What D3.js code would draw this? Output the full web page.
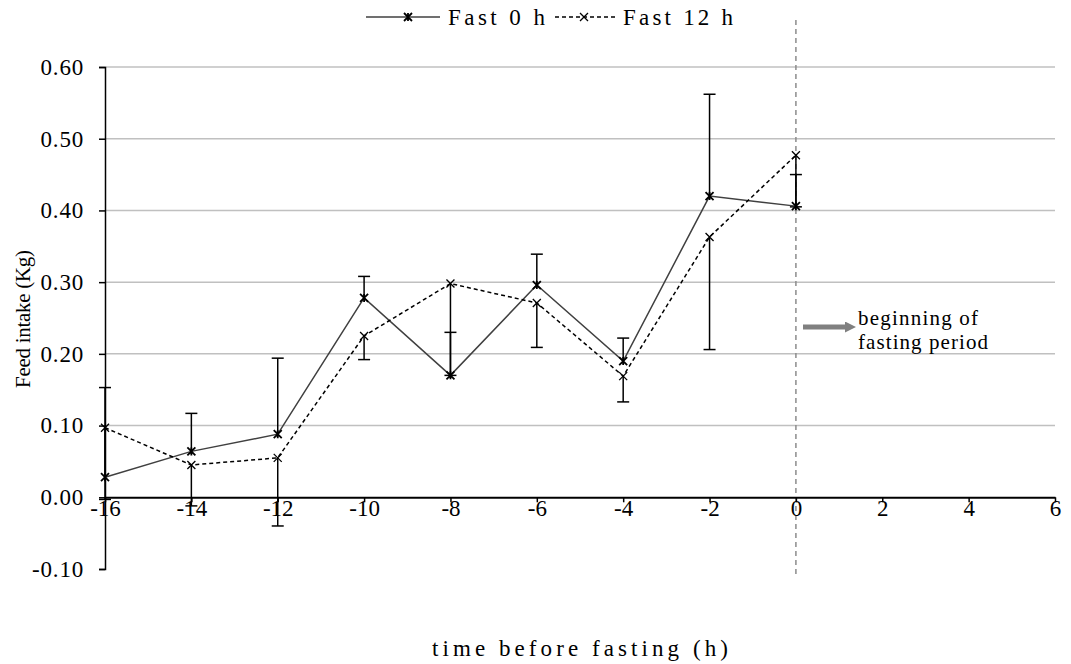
<!DOCTYPE html>
<html>
<head>
<meta charset="utf-8">
<script src="https://cdn.jsdelivr.net/npm/d3@7"></script>
<style>
  body { margin: 0; background: #fff; }
  svg text { font-family: "Times New Roman", "Liberation Serif", Tinos, "DejaVu Serif", serif; fill: #000; }
</style>
</head>
<body>
<script>
var hours = [-16, -14, -12, -10, -8, -6, -4, -2, 0];
var fast0 = [0.028, 0.064, 0.088, 0.278, 0.170, 0.296, 0.190, 0.420, 0.406];
var fast0Plus = [0.125, 0.053, 0.106, 0.030, 0.060, 0.043, 0.032, 0.142, 0.044];
var fast12 = [0.097, 0.045, 0.055, 0.225, 0.298, 0.271, 0.169, 0.363, 0.477];
var fast12Minus = [0.100, 0.057, 0.095, 0.033, 0.128, 0.062, 0.036, 0.157, 0.072];
var xTicks = [-16, -14, -12, -10, -8, -6, -4, -2, 0, 2, 4, 6];
var yTicks = [-0.1, 0, 0.1, 0.2, 0.3, 0.4, 0.5, 0.6];

var serif = '"Times New Roman", "Liberation Serif", Tinos, "DejaVu Serif", serif';

var svg = d3.select('body').append('svg')
    .attr('width', 1071)
    .attr('height', 664);

var x = d3.scaleLinear().domain([-16, 6]).range([105, 1055]);
var y = d3.scaleLinear().domain([-0.1, 0.6]).range([569, 67]);

// gridlines
svg.append('g')
    .selectAll('line')
    .data(yTicks.filter(function (d) { return d > 0; }))
    .enter().append('line')
    .attr('x1', x(-16)).attr('x2', x(6))
    .attr('y1', function (d) { return y(d); })
    .attr('y2', function (d) { return y(d); })
    .attr('stroke', '#c0c0c0')
    .attr('stroke-width', 1.5);

// fasting start marker
svg.append('line')
    .attr('x1', x(0)).attr('x2', x(0))
    .attr('y1', 20).attr('y2', 576)
    .attr('stroke', '#8c8c8c')
    .attr('stroke-width', 1.5)
    .attr('stroke-dasharray', '5,4');

// y axis
var yAxis = svg.append('g')
    .attr('transform', 'translate(' + x(-16) + ',0)')
    .call(d3.axisLeft(y).tickValues(yTicks).tickSize(6).tickFormat(d3.format('.2f')))
    .attr('font-family', serif)
    .attr('font-size', 23);
yAxis.select('.domain').attr('stroke-width', 1.5);
yAxis.selectAll('.tick line').attr('stroke-width', 1.5);
yAxis.selectAll('text')
    .attr('x', -21)
    .style('font-size', '23px')
    .style('letter-spacing', '0.8px')
    .text(function (d) { return d3.format('.2f')(d).replace('−', '-'); });

// x axis at y = 0
var xAxis = svg.append('g')
    .attr('transform', 'translate(0,' + y(0) + ')')
    .call(d3.axisBottom(x).tickValues(xTicks).tickSize(5).tickSizeOuter(0).tickFormat(function (d) { return String(d); }))
    .attr('font-family', serif)
    .attr('font-size', 23);
xAxis.select('.domain').attr('stroke-width', 2);
xAxis.selectAll('.tick line').attr('stroke-width', 1.5);
xAxis.selectAll('text')
    .attr('y', 2)
    .style('font-size', '23px');

// error bars
var cap = 6;
function errorBars(vals, err, sign) {
    var g = svg.append('g').attr('stroke', '#000').attr('stroke-width', 1.5);
    hours.forEach(function (h, i) {
        var end = vals[i] + sign * err[i];
        g.append('line')
            .attr('x1', x(h)).attr('x2', x(h))
            .attr('y1', y(vals[i])).attr('y2', y(end));
        g.append('line')
            .attr('x1', x(h) - cap).attr('x2', x(h) + cap)
            .attr('y1', y(end)).attr('y2', y(end));
    });
}
errorBars(fast0, fast0Plus, 1);
errorBars(fast12, fast12Minus, -1);

// series lines
var line = d3.line()
    .x(function (d) { return x(d[0]); })
    .y(function (d) { return y(d[1]); });

svg.append('path')
    .datum(hours.map(function (h, i) { return [h, fast0[i]]; }))
    .attr('fill', 'none')
    .attr('stroke', '#404040')
    .attr('stroke-width', 1.5)
    .attr('d', line);

svg.append('path')
    .datum(hours.map(function (h, i) { return [h, fast12[i]]; }))
    .attr('fill', 'none')
    .attr('stroke', '#000')
    .attr('stroke-width', 1.5)
    .attr('stroke-dasharray', '4,3')
    .attr('d', line);

// markers
function starMarker(g, cx, cy) {
    var s = 4;
    g.append('path')
        .attr('d', 'M' + (cx - s) + ',' + (cy - s) + 'L' + (cx + s) + ',' + (cy + s) +
            'M' + (cx - s) + ',' + (cy + s) + 'L' + (cx + s) + ',' + (cy - s) +
            'M' + cx + ',' + (cy - s) + 'L' + cx + ',' + (cy + s))
        .attr('stroke', '#000').attr('stroke-width', 1.8).attr('fill', 'none');
}
function xMarker(g, cx, cy) {
    var s = 4;
    g.append('path')
        .attr('d', 'M' + (cx - s) + ',' + (cy - s) + 'L' + (cx + s) + ',' + (cy + s) +
            'M' + (cx - s) + ',' + (cy + s) + 'L' + (cx + s) + ',' + (cy - s))
        .attr('stroke', '#000').attr('stroke-width', 1.3).attr('fill', 'none');
}
var mk = svg.append('g');
hours.forEach(function (h, i) {
    starMarker(mk, x(h), y(fast0[i]));
    xMarker(mk, x(h), y(fast12[i]));
});

function label(px, py, txt, len, size) {
    return svg.append('text')
        .attr('x', px).attr('y', py)
        .attr('textLength', len)
        .attr('lengthAdjust', 'spacing')
        .style('font-family', serif)
        .style('font-size', (size || 23) + 'px')
        .text(txt);
}

// legend
var leg = svg.append('g');
leg.append('line').attr('x1', 366).attr('x2', 440).attr('y1', 17).attr('y2', 17)
    .attr('stroke', '#404040').attr('stroke-width', 1.5);
starMarker(leg, 408, 17);
label(448, 25, 'Fast 0 h', 97);
leg.append('line').attr('x1', 555).attr('x2', 615).attr('y1', 17).attr('y2', 17)
    .attr('stroke', '#000').attr('stroke-width', 1.5).attr('stroke-dasharray', '4,3');
xMarker(leg, 584, 17);
label(623, 25, 'Fast 12 h', 110);

// annotation arrow
svg.append('defs').append('marker')
    .attr('id', 'ah')
    .attr('viewBox', '0 0 10 10')
    .attr('refX', 0).attr('refY', 5)
    .attr('markerWidth', 2.2).attr('markerHeight', 2.2)
    .attr('orient', 'auto')
    .append('path').attr('d', 'M0,0L10,5L0,10Z').attr('fill', '#808080');
svg.append('line')
    .attr('x1', 803).attr('x2', 845).attr('y1', 327).attr('y2', 327)
    .attr('stroke', '#808080').attr('stroke-width', 5)
    .attr('marker-end', 'url(#ah)');
label(858, 325, 'beginning of', 120, 21);
label(858, 349, 'fasting period', 130, 21);

// axis titles
label(432, 656, 'time before fasting (h)', 296);
svg.append('text')
    .attr('transform', 'translate(30,319) rotate(-90)')
    .attr('text-anchor', 'middle')
    .attr('textLength', 138)
    .attr('lengthAdjust', 'spacing')
    .style('font-family', serif)
    .style('font-size', '21px')
    .text('Feed intake (Kg)');
</script>
</body>
</html>
